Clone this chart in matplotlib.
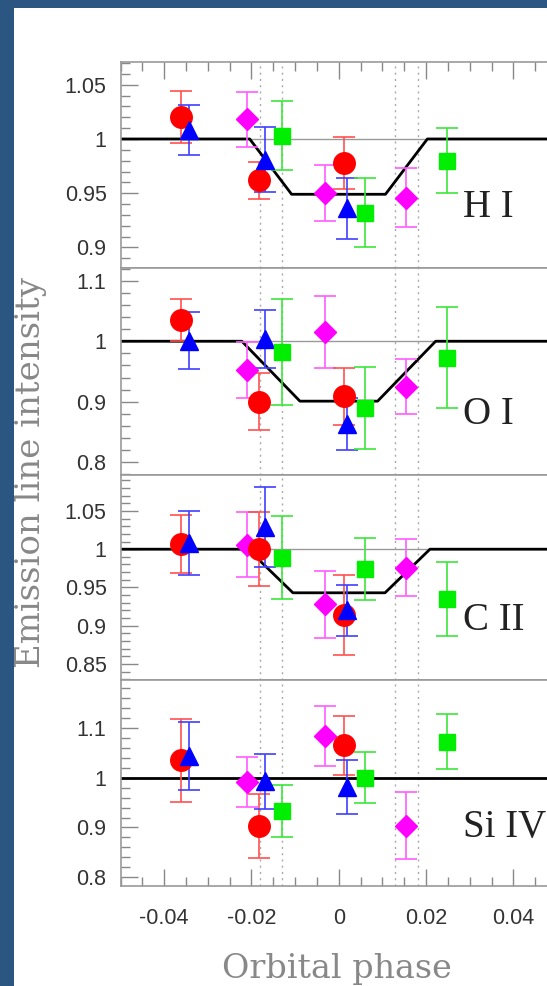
import matplotlib
matplotlib.use('Agg')
import matplotlib.pyplot as plt
from matplotlib.ticker import MultipleLocator, FuncFormatter
from matplotlib.patches import Rectangle

# orbital phases of the four visits
phase_red = [-0.0361, -0.0183, 0.0011]
phase_blue = [-0.0344, -0.0170, 0.0020]
phase_mag = [-0.0210, -0.0032, 0.0155]
phase_green = [-0.0131, 0.0061, 0.0249]

lines = ['H I', 'O I', 'C II', 'Si IV']

# intensities (per line) and errors
red_val = [[1.020, 0.962, 0.978], [1.035, 0.900, 0.909], [1.007, 1.000, 0.914], [1.035, 0.903, 1.065]]
red_err = [[0.024, 0.017, 0.024], [0.035, 0.047, 0.047], [0.038, 0.048, 0.052], [0.083, 0.064, 0.059]]
blue_val = [[1.008, 0.981, 0.936], [1.001, 1.003, 0.864], [1.008, 1.029, 0.920], [1.044, 0.993, 0.981]]
blue_err = [[0.023, 0.030, 0.028], [0.047, 0.048, 0.043], [0.042, 0.052, 0.033], [0.068, 0.055, 0.054]]
mag_val = [[1.018, 0.950, 0.946], [0.952, 1.015, 0.925], [1.006, 0.928, 0.976], [0.992, 1.084, 0.904]]
mag_err = [[0.025, 0.026, 0.027], [0.046, 0.060, 0.046], [0.042, 0.044, 0.037], [0.050, 0.060, 0.068]]
green_val = [[1.003, 0.932, 0.980], [0.982, 0.890, 0.973], [0.989, 0.974, 0.935], [0.933, 1.000, 1.072]]
green_err = [[0.032, 0.032, 0.030], [0.088, 0.068, 0.083], [0.054, 0.040, 0.048], [0.053, 0.051, 0.055]]

# transit model: contact phases and depth (Si IV: flat)
model_t = [[-0.0204, -0.0108, 0.0107, 0.0203],
           [-0.0222, -0.0089, 0.0089, 0.0222],
           [-0.0208, -0.0105, 0.0106, 0.0209],
           None]
model_depth = [0.949, 0.901, 0.943, 1.0]
contacts = [-0.0181, -0.0130, 0.0130, 0.0181]

ylims = [(0.881, 1.071), (0.779, 1.121), (0.829, 1.097), (0.7826, 1.196)]
ymajor = [0.05, 0.1, 0.05, 0.1]
yminor = [0.01, 0.02, 0.01, 0.02]
label_y = [0.9276, 0.864, 0.8947, 0.8814]

plt.rcParams['font.family'] = ['Liberation Sans', 'DejaVu Sans']

W, H = 547, 986
fig = plt.figure(figsize=(W / 100, H / 100), dpi=100, facecolor='#2c5682')
fig.patches.append(Rectangle((14 / W, 0), 1, 1 - 8 / H, transform=fig.transFigure,
                             facecolor='white', edgecolor='none', zorder=-5))

edges = [62, 268, 475, 680, 886]
left = 120.5 / W
width = (557 - 120.5) / W
fmt = FuncFormatter(lambda v, p: '%g' % (round(v, 4) + 0.0))

series = [
    (phase_mag, mag_val, mag_err, '#ff00ff', '#ff5cff', 'D', 11),
    (phase_red, red_val, red_err, '#ff0000', '#ff5050', 'o', 15.5),
    (phase_blue, blue_val, blue_err, '#0000ff', '#4040ff', '^', 13),
    (phase_green, green_val, green_err, '#00ee00', '#3ce63c', 's', 12),
]

for i in range(4):
    ax = fig.add_axes([left, 1 - edges[i + 1] / H, width, (edges[i + 1] - edges[i]) / H])
    ax.set_xlim(-0.05, 0.05)
    ax.set_ylim(*ylims[i])
    ax.axhline(1, color='#999999', lw=1.0, zorder=1)
    for c in contacts:
        ax.axvline(c, color='#aaaaaa', lw=1.0, ls=(0, (1.5, 3)), zorder=1)
    if model_t[i] is not None:
        t1, t2, t3, t4 = model_t[i]
        d = model_depth[i]
        ax.plot([-0.05, t1, t2, t3, t4, 0.05], [1, 1, d, d, 1, 1], color='black', lw=2.0, zorder=2)
    else:
        ax.axhline(1, color='black', lw=2.0, zorder=2)

    for ph, val, err, mc, ec, mk, ms in series:
        ax.errorbar(ph, val[i], yerr=err[i], fmt=mk, ms=ms, mfc=mc, mec=mc, ecolor=ec,
                    elinewidth=1.2, capsize=8, capthick=1.2, zorder=3)

    ax.text(0.0284, label_y[i], lines[i], fontsize=28, family='Liberation Serif',
            color='#222222', ha='left', va='baseline')

    ax.xaxis.set_major_locator(MultipleLocator(0.02))
    ax.xaxis.set_minor_locator(MultipleLocator(0.005))
    ax.yaxis.set_major_locator(MultipleLocator(ymajor[i]))
    ax.yaxis.set_minor_locator(MultipleLocator(yminor[i]))
    ax.xaxis.set_major_formatter(fmt)
    ax.yaxis.set_major_formatter(fmt)
    ax.tick_params(which='both', direction='in', color='#888888', labelcolor='#333333',
                   left=True, right=False, top=(i == 0), bottom=(i == 3),
                   labelbottom=(i == 3), labelsize=15.5, width=1.0)
    ax.tick_params(which='major', length=12)
    ax.tick_params(which='minor', length=6.5)
    ax.tick_params(axis='y', pad=10)
    ax.tick_params(axis='x', pad=16)
    for s in ax.spines.values():
        s.set_color('#999999')
        s.set_linewidth(1.2)

fig.text(31 / W, 1 - 473 / H, 'Emission line intensity', rotation=90, family='DejaVu Serif',
         fontsize=24.5, color='#888888', ha='center', va='center')
fig.text(337 / W, 1 - 978 / H, 'Orbital phase', family='DejaVu Serif',
         fontsize=24, color='#888888', ha='center', va='baseline')

fig.savefig('out.png', dpi=100, facecolor=fig.get_facecolor())
